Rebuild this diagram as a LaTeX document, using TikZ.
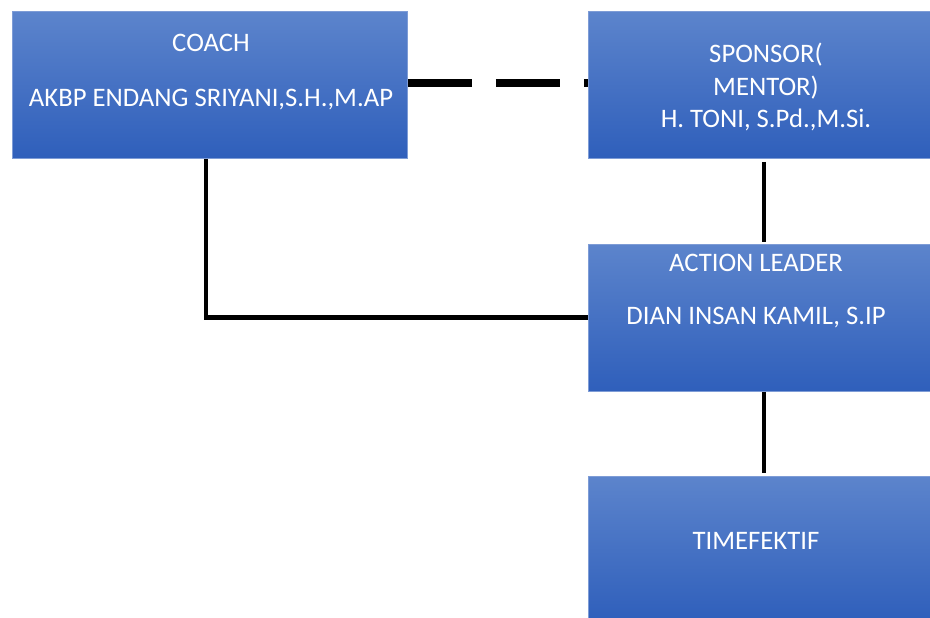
\documentclass[tikz,border=0pt]{standalone}
\usepackage{fontspec}
\setmainfont{Carlito}
\usetikzlibrary{calc}
\definecolor{boxtop}{RGB}{92,132,204}
\definecolor{boxmid}{RGB}{66,112,198}
\definecolor{boxbot}{RGB}{47,95,187}
\definecolor{boxedge}{RGB}{126,156,214}
\tikzset{
  orgbox/.style={rectangle, draw=boxedge, line width=0.8pt, anchor=north west,
    top color=boxtop, middle color=boxmid, bottom color=boxbot, inner sep=0pt},
  boxtext/.style={text=white, font=\fontsize{26.7}{32.5}\selectfont, align=center, inner sep=0pt},
  solidlink/.style={draw=black, line width=4.5pt},
  dashlink/.style={draw=black, line width=8pt, dash pattern=on 64pt off 24pt},
}
\begin{document}
\begin{tikzpicture}[x=1pt, y=-1pt]
\useasboundingbox (0,0) rectangle (930,618);

% boxes
\node[orgbox, minimum width=395pt, minimum height=147pt] (coach) at (12,11) {};
\node[orgbox, minimum width=343pt, minimum height=147pt] (sponsor) at (588,11) {};
\node[orgbox, minimum width=343pt, minimum height=147pt] (action) at (588,244) {};
\node[orgbox, minimum width=343pt, minimum height=145pt] (team) at (588,476) {};

% labels
\node[boxtext] (coachtitle) at (211,43) {COACH};
\node[boxtext] (coachname) at (211,100) {AKBP ENDANG SRIYANI,S.H.,M.AP};
\node[boxtext] (sponsortext) at (766,87) {SPONSOR(\\MENTOR)\\H. TONI, S.Pd.,M.Si.};
\node[boxtext] (actiontitle) at (756,263) {ACTION LEADER};
\node[boxtext] (actionname) at (756,318) {DIAN INSAN KAMIL, S.IP};
\node[boxtext] (teamtext) at (756,541) {TIMEFEKTIF};

% connectors
\coordinate (elbow) at (206,317.5);
\coordinate (spine) at (764,0);
\coordinate (dashrow) at (0,83);
\draw[dashlink] (coach.east |- dashrow) -- (sponsor.west |- dashrow);
\draw[solidlink] (coach.south -| elbow) -- (elbow) -- (action.west |- elbow);
\draw[solidlink, shorten <=3pt, shorten >=2pt] (sponsor.south -| spine) -- (action.north -| spine);
\draw[solidlink, shorten >=3pt] (action.south -| spine) -- (team.north -| spine);
\end{tikzpicture}
\end{document}
